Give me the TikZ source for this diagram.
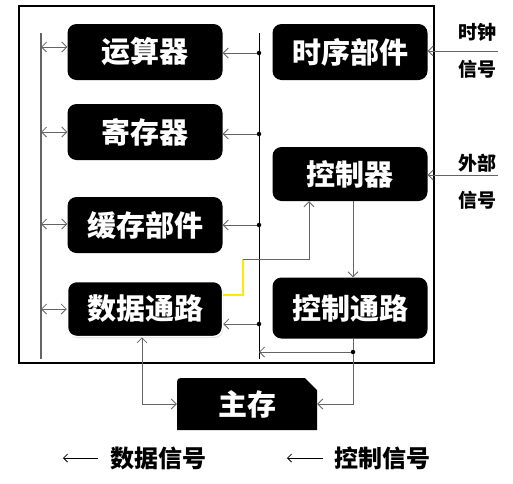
\documentclass[tikz,border=0pt]{standalone}
\usepackage{fontspec}
\newfontfamily\cjk{Noto Sans CJK SC}
\usepackage{tikz}
\usetikzlibrary{arrows.meta,calc,positioning,shadows}
\usepackage{xcolor}
\definecolor{Wire}{RGB}{100,100,100}
\definecolor{Glow}{RGB}{255,235,0}

\begin{document}
\begin{tikzpicture}[x=1pt,y=-1pt,
  blk/.style={fill=black, rounded corners=9pt, text=white, inner sep=0pt,
    font=\cjk\bfseries\fontsize{29}{30}\selectfont, minimum width=155pt, minimum height=56pt},
  sig/.style={draw=Wire, line width=0.8pt, -{Straight Barb[length=5pt,width=10pt]}},
  bus/.style={line width=0.8pt},
  lbl/.style={font=\cjk\bfseries\fontsize{19}{20}\selectfont, inner sep=0pt},
  lgd/.style={font=\cjk\bfseries\fontsize{24}{25}\selectfont, inner sep=0pt, anchor=west},
  dot/.style={fill=black, circle, inner sep=0pt, minimum size=4.5pt}]
\useasboundingbox (0,0) rectangle (513,483);
\node[draw, line width=2pt, minimum width=415pt, minimum height=357pt] (cpu) at (226.5,184.5) {};
%
\node[blk] (alu) at (145,52) {运算器};
\node[blk] (reg) at (145,132) {寄存器};
\node[blk] (cache) at (145,225) {缓存部件};
\node[blk, minimum height=55pt, draw=white, line width=1.5pt,
  drop shadow={fill=black!30, shadow xshift=0.8pt, shadow yshift=-1.5pt}] (dpath) at (145,309) {数据通路};
\node[blk] (timing) at (350,52) {时序部件};
\node[blk, minimum height=54pt] (ctrl) at (350,174) {控制器};
\node[blk, minimum height=61pt] (cpath) at (350,308) {控制通路};
%
\fill (177,430) -- (177,386) .. controls (177,378) .. (185,378) -- (305,378) -- (317,390) -- (317,430) -- cycle;
\node[blk, fill=none, minimum width=140pt, minimum height=52pt] (mem) at (247,404) {主存};
%
\coordinate (dbtop) at (41,33);
\coordinate (dbbot) at (41,359);
\coordinate (cbtop) at (259,33);
\coordinate (cbbot) at (259,359);
\draw[bus, Wire, line width=1.2pt] (dbtop) -- (dbbot);
\draw[bus] (cbtop) -- (cbbot);
%
\foreach \y/\n in {47/alu, 132/reg, 224/cache, 309/dpath}
  \draw[sig, {Straight Barb[length=5pt,width=10pt]}-{Straight Barb[length=5pt,width=10pt]}] (41,\y) -- (41,\y -| \n.west);
\foreach \y/\n in {53/alu, 134/reg, 225/cache, 324/dpath}{
  \node[dot] (j\n) at (259,\y) {};
  \draw[sig] (j\n) -- (j\n -| \n.east);
}
%
\coordinate (clk) at (498,51);
\coordinate (ext) at (498,175);
\draw[sig] (clk) -- (clk -| timing.east);
\draw[sig] (ext) -- (ext -| ctrl.east);
\node[lbl] (clkA) at (477,32) {时钟};
\node[lbl] (clkB) at (477,69) {信号};
\node[lbl] (extA) at (477,163) {外部};
\node[lbl] (extB) at (477,200) {信号};
%
\draw[sig] ([xshift=3pt]ctrl.south) -- ([xshift=3pt]cpath.north);
\coordinate (f1) at (243,295);
\coordinate (f2) at (243,259);
\coordinate (f3) at (309,259);
\draw[Glow, line width=1.2pt] (f1 -| dpath.east) -- (f1) -- (f2);
\draw[sig] (f2) -- (f3) -- (f3 |- ctrl.south);
%
\node[dot] (m1) at (353,352) {};
\coordinate (m2) at (353,404);
\coordinate (m3) at (142,404);
\draw[Wire, line width=0.8pt] (m1 |- cpath.south) -- (m1);
\draw[sig] (m1) -- (m1 -| cbbot);
\draw[sig] (m1) -- (m2) -- (mem.east);
\draw[sig, {Straight Barb[length=5pt,width=10pt]}-{Straight Barb[length=5pt,width=10pt]}] (dpath.south -| m3) -- (m3) -- (mem.west);
%
\node[lgd] (ldata) at (110,458) {数据信号};
\node[lgd] (lctrl) at (334,458) {控制信号};
\draw[-{Straight Barb[length=4pt,width=8pt]}, line width=0.8pt] ([xshift=-12pt]ldata.west) -- ++(-35,0);
\draw[-{Straight Barb[length=4pt,width=8pt]}, line width=0.8pt] ([xshift=-11pt]lctrl.west) -- ++(-36,0);
\end{tikzpicture}
\end{document}
